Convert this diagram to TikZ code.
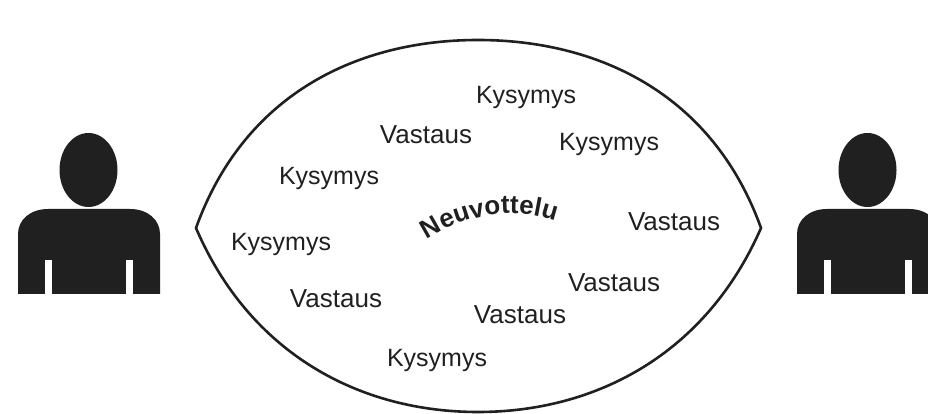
\documentclass[tikz,border=0pt]{standalone}
\usepackage{fontspec}
\setmainfont{Liberation Sans}
\usetikzlibrary{decorations.text}
\definecolor{ink}{RGB}{32,32,32}
\tikzset{
  every node/.style={inner sep=0pt,text=ink},
  question/.style={font=\fontsize{25}{28}\selectfont},
  answer/.style={font=\fontsize{26}{28}\selectfont},
  lens/.style={line width=2.6pt,ink,line join=miter},
  figure/.style={fill=ink,draw=none},
  slit/.style={fill=white,draw=none},
  pics/person/.style={code={
    \fill[figure] (70.5,244) ellipse [x radius=29,y radius=37];
    \fill[figure] (0,120) -- (0,180) .. controls (0,194) and (12,205) .. (30,205)
      -- (112,205) .. controls (130,205) and (142,194) .. (142,180) -- (142,120) -- cycle;
    \fill[slit] (27,120) rectangle (34,154);
    \fill[slit] (108,120) rectangle (115,154);
  }},
}
\begin{document}
\begin{tikzpicture}[x=1pt,y=1pt]
  \useasboundingbox (0,0) rectangle (928,414);

  % outline, tips at 196 and 761, crest 374, trough 2
  \draw[lens] (196,186) .. controls (245,322) and (360,374) .. (478,374)
    .. controls (596,374) and (712,322) .. (761,186)
    .. controls (706,60) and (596,2) .. (478,2)
    .. controls (360,2) and (250,60) .. (196,186) -- cycle;

  % people
  \pic at (18,0) {person};
  \pic at (797,0) {person};

  % questions
  \node[question] (kys1) at (526,316) {Kysymys};
  \node[question] (kys2) at (609,269) {Kysymys};
  \node[question] (kys3) at (329,236) {Kysymys};
  \node[question] (kys4) at (281,170) {Kysymys};
  \node[question] (kys5) at (437,54)  {Kysymys};

  % answers
  \node[answer] (vas1) at (426,279) {Vastaus};
  \node[answer] (vas2) at (674,192) {Vastaus};
  \node[answer] (vas3) at (614,131) {Vastaus};
  \node[answer] (vas4) at (520,99)  {Vastaus};
  \node[answer] (vas5) at (336,115) {Vastaus};

  % curved title
  \path[postaction={decorate,decoration={text along path,text align=center,
      text={|\fontsize{26}{28}\bfseries\color{ink}|Neuvottelu}}}]
    (420,170) .. controls (455,196) and (512,212) .. (563,190);
\end{tikzpicture}
\end{document}
